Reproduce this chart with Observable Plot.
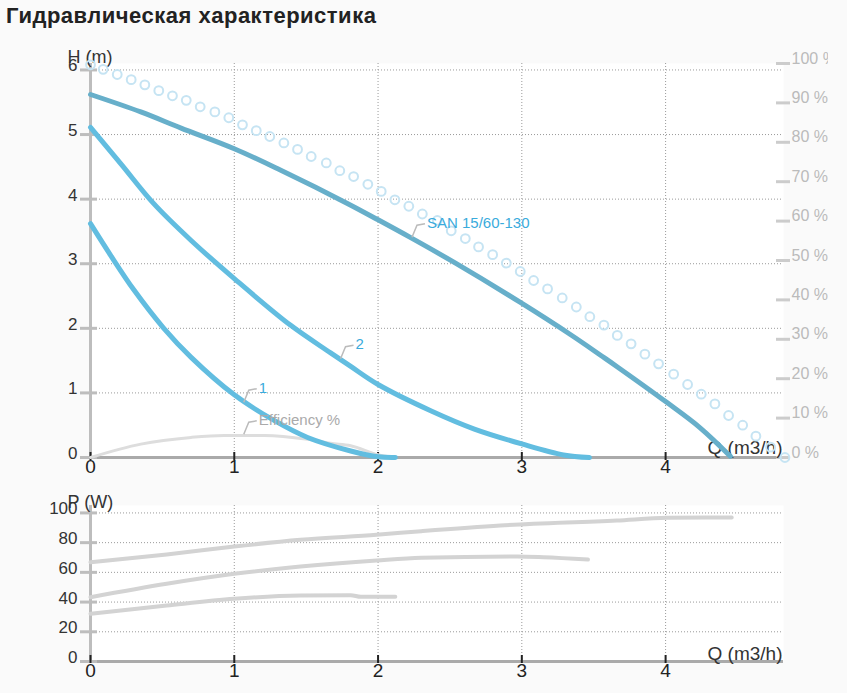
<!DOCTYPE html>
<html><head><meta charset="utf-8">
<script src="https://cdn.jsdelivr.net/npm/d3@7"></script>
<script src="https://cdn.jsdelivr.net/npm/@observablehq/plot@0.6"></script>
<style>
body{margin:0;background:#fafafa;font-family:"Liberation Sans",Arial,sans-serif;}
#wrap{position:relative;width:847px;height:693px;overflow:hidden}
#title{position:absolute;left:6px;top:5px;font-weight:bold;font-size:22px;line-height:22px;letter-spacing:0.5px;color:#222;white-space:nowrap}
#top{position:absolute;left:0;top:30px;width:828px;height:450px;overflow:hidden}
#bot{position:absolute;left:0;top:480px;width:847px;height:213px}
</style></head><body>
<div id="wrap"><div id="title">Гидравлическая характеристика</div><div id="top"></div><div id="bot"></div></div>
<script>
// ---- ticks ----
const qTicks = [0, 1, 2, 3, 4];
const hTicks = [0, 1, 2, 3, 4, 5, 6];
const pctTicks = [0, 10, 20, 30, 40, 50, 60, 70, 80, 90, 100];
const pTicks = [0, 20, 40, 60, 80, 100];

// ---- H(Q) curves ----
const sanQ = [0, 0.35, 0.63, 1.0, 1.32, 1.79, 2.0, 2.23, 2.53, 2.99, 3.34, 3.55, 3.66, 4.01, 4.24, 4.45];
const sanH = [5.62, 5.35, 5.10, 4.78, 4.45, 3.93, 3.68, 3.40, 3.02, 2.40, 1.90, 1.58, 1.41, 0.85, 0.46, 0.02];
const c2Q = [0, 0.21, 0.44, 0.70, 1.0, 1.39, 1.67, 1.81, 2.0, 2.37, 2.67, 3.0, 3.29, 3.47];
const c2H = [5.11, 4.55, 3.93, 3.36, 2.77, 2.05, 1.62, 1.41, 1.13, 0.72, 0.44, 0.21, 0.04, 0];
const c1Q = [0, 0.14, 0.30, 0.51, 0.70, 1.0, 1.28, 1.51, 1.81, 2.0, 2.12];
const c1H = [3.62, 3.13, 2.60, 2.0, 1.55, 0.97, 0.57, 0.31, 0.10, 0.01, 0];
// efficiency (%)
const effQ = [0, 0.35, 0.70, 0.93, 1.21, 1.51, 1.67, 1.81, 2.0, 2.11];
const effPct = [0, 3.4, 5.1, 5.6, 5.6, 4.6, 3.6, 3.0, 0.7, 0];
// dotted (circle) curve
const dotQ = [0,0.088,0.186,0.283,0.378,0.475,0.570,0.666,0.763,0.865,0.962,1.057,1.153,1.247,1.345,1.440,1.535,1.640,1.734,1.830,1.929,2.022,2.117,2.214,2.308,2.412,2.509,2.607,2.699,2.797,2.892,2.989,3.082,3.179,3.281,3.379,3.473,3.571,3.664,3.760,3.856,3.951,4.056,4.153,4.248,4.343,4.438,4.536,4.628,4.730,4.830];
const dotH = [6.08,6.01,5.93,5.85,5.77,5.68,5.60,5.53,5.43,5.35,5.26,5.15,5.06,4.97,4.87,4.77,4.66,4.56,4.44,4.35,4.23,4.12,3.99,3.89,3.77,3.67,3.51,3.39,3.26,3.14,3.01,2.88,2.74,2.61,2.47,2.33,2.18,2.05,1.89,1.76,1.60,1.45,1.29,1.13,0.98,0.83,0.65,0.50,0.33,0.16,0];

// ---- curve labels ----
const labelText = ["SAN 15/60-130", "2", "1"];
const labelQ = [2.236, 1.739, 1.066];
const labelH = [3.41, 1.53, 0.856];
const effLabelText = ["Efficiency %"];
const effLabelQ = [1.066];
const effLabelPct = [5.9];

// ---- P(Q) curves ----
const pMaxQ = [0, 0.53, 1.0, 1.46, 1.99, 2.30, 2.85, 3.66, 4.01, 4.46];
const pMaxW = [66.8, 72, 77.4, 81.9, 85.3, 87.7, 91.5, 94.9, 96.7, 96.9];
const p2Q = [0, 0.53, 1.0, 1.46, 1.99, 2.30, 2.97, 3.15, 3.46];
const p2W = [43.3, 52.3, 59, 63.9, 68, 69.8, 70.7, 70.2, 68.6];
const p1Q = [0, 0.53, 1.0, 1.46, 1.81, 1.88, 2.12];
const p1W = [32.1, 37.7, 42.2, 44.4, 44.6, 43.5, 43.5];

// ---- helpers ----
const zip = (xs, ys) => xs.map((x, i) => ({x, y: ys[i]}));
const H_MAX = 6.1;               // H-axis top; right axis 100 % sits here
const pctToH = p => p * H_MAX / 100;
const intFmt = d => String(Math.round(d));
const leader = {draw(ctx) { ctx.moveTo(0, 0); ctx.lineTo(5, -12); ctx.lineTo(13, -13.5); }};
const svgStyle = {maxWidth: "none", background: "transparent", overflow: "visible", fontFamily: "'Liberation Sans', Arial, sans-serif"};
const BLUE_LABEL = "#3aabdc";
const gridStyle = {stroke: "#9a9a9a", strokeOpacity: 1, strokeDasharray: "1,2", strokeWidth: 1};

const topPlot = Plot.plot({
  width: 847, height: 450,
  marginLeft: 90, marginRight: 64, marginTop: 33, marginBottom: 23,
  style: svgStyle,
  x: {domain: [0, 4.82]},
  y: {domain: [0, H_MAX]},
  marks: [
    Plot.frame({fill: "#ffffff", stroke: "none"}),
    Plot.gridX({ticks: qTicks.slice(1), ...gridStyle}),
    Plot.gridY({ticks: hTicks.slice(1), ...gridStyle}),
    Plot.ruleX([0], {stroke: "#bdbdbd", strokeWidth: 3}),
    Plot.ruleY([0], {stroke: "#aaaaaa", strokeWidth: 3}),
    // left axis: ticks + labels
    Plot.axisY({ticks: hTicks, tickSize: 17, dx: 7, tickFormat: () => "", stroke: "#bdbdbd", strokeWidth: 3, label: null}),
    Plot.axisY({ticks: hTicks, tickSize: 0, tickPadding: 13, dy: -4, tickFormat: intFmt, fill: "#333", fontSize: 17, label: null}),
    // right % axis
    Plot.axisY({anchor: "right", ticks: pctTicks.map(pctToH), tickSize: 14, dx: -8, tickFormat: () => "", stroke: "#cccccc", strokeWidth: 3, label: null}),
    Plot.axisY({anchor: "right", ticks: pctTicks.map(pctToH), tickSize: 0, tickPadding: 8, dy: -5,
      tickFormat: d => Math.round(d / H_MAX * 100) + " %", fill: "#bbbbbb", fontSize: 16, label: null}),
    // bottom axis ticks + labels
    Plot.axisX({ticks: qTicks, tickSize: 8, dy: -5, tickFormat: () => "", stroke: "#222", strokeWidth: 2, label: null}),
    Plot.axisX({ticks: qTicks, tickSize: 0, tickPadding: 2, tickFormat: intFmt, fill: "#222", fontSize: 19, label: null}),
    Plot.text(["H (m)"], {frameAnchor: "top-left", dx: -23, dy: -1, textAnchor: "start", lineAnchor: "bottom", fontSize: 18, fill: "#333"}),
    Plot.text(["Q (m3/h)"], {frameAnchor: "bottom-right", dx: -1, dy: -4, textAnchor: "end", lineAnchor: "bottom", fontSize: 19, fill: "#333"}),
    // data
    Plot.dot(zip(dotQ, dotH), {x: "x", y: "y", r: 4.4, fill: "none", stroke: "#c6e4f3", strokeWidth: 2}),
    Plot.line(zip(effQ, effPct.map(pctToH)), {x: "x", y: "y", stroke: "#dddddd", strokeWidth: 3, curve: "monotone-x"}),
    Plot.line(zip(c1Q, c1H), {x: "x", y: "y", stroke: "#62bde0", strokeWidth: 5, curve: "catmull-rom", strokeLinejoin: "round"}),
    Plot.line(zip(c2Q, c2H), {x: "x", y: "y", stroke: "#62bde0", strokeWidth: 5, curve: "catmull-rom", strokeLinejoin: "round"}),
    Plot.line(zip(sanQ, sanH), {x: "x", y: "y", stroke: "#67afca", strokeWidth: 5, curve: "catmull-rom", strokeLinejoin: "round"}),
    // labels with leader lines
    Plot.dot(zip(labelQ, labelH), {x: "x", y: "y", symbol: leader, fill: "none", stroke: "#bbbbbb", strokeWidth: 1.5}),
    Plot.text(labelText.map((t, i) => ({t, x: labelQ[i], y: labelH[i]})), {x: "x", y: "y", text: "t", dx: 15, dy: -14, textAnchor: "start", fill: BLUE_LABEL, fontSize: 15}),
    Plot.dot(zip(effLabelQ, effLabelPct.map(pctToH)), {x: "x", y: "y", symbol: leader, fill: "none", stroke: "#bbbbbb", strokeWidth: 1.5}),
    Plot.text(effLabelText.map((t, i) => ({t, x: effLabelQ[i], y: pctToH(effLabelPct[i])})), {x: "x", y: "y", text: "t", dx: 15, dy: -14, textAnchor: "start", fill: "#aaaaaa", fontSize: 15})
  ]
});
document.getElementById("top").append(topPlot);

const botPlot = Plot.plot({
  width: 847, height: 213,
  marginLeft: 90, marginRight: 64, marginTop: 25, marginBottom: 32,
  style: svgStyle,
  x: {domain: [0, 4.82]},
  y: {domain: [0, 105]},
  marks: [
    Plot.frame({fill: "#ffffff", stroke: "none"}),
    Plot.gridX({ticks: qTicks.slice(1), ...gridStyle}),
    Plot.gridY({ticks: pTicks.slice(1), ...gridStyle}),
    Plot.ruleX([0], {stroke: "#bdbdbd", strokeWidth: 3}),
    Plot.ruleY([0], {stroke: "#aaaaaa", strokeWidth: 3}),
    Plot.axisY({ticks: pTicks, tickSize: 17, dx: 7, tickFormat: () => "", stroke: "#bdbdbd", strokeWidth: 3, label: null}),
    Plot.axisY({ticks: pTicks, tickSize: 0, tickPadding: 13, dy: -4, tickFormat: intFmt, fill: "#333", fontSize: 17, label: null}),
    Plot.axisX({ticks: qTicks, tickSize: 8, dy: -6, tickFormat: () => "", stroke: "#222", strokeWidth: 2, label: null}),
    Plot.axisX({ticks: qTicks, tickSize: 0, tickPadding: 2, tickFormat: intFmt, fill: "#222", fontSize: 19, label: null}),
    Plot.text(["P (W)"], {frameAnchor: "top-left", dx: -23, dy: 2, textAnchor: "start", lineAnchor: "bottom", fontSize: 18, fill: "#333"}),
    Plot.text(["Q (m3/h)"], {frameAnchor: "bottom-right", dx: -1, dy: -2, textAnchor: "end", lineAnchor: "bottom", fontSize: 19, fill: "#333"}),
    Plot.line(zip(pMaxQ, pMaxW), {x: "x", y: "y", stroke: "#d3d3d3", strokeWidth: 4, curve: "monotone-x"}),
    Plot.line(zip(p2Q, p2W), {x: "x", y: "y", stroke: "#d3d3d3", strokeWidth: 4, curve: "monotone-x"}),
    Plot.line(zip(p1Q, p1W), {x: "x", y: "y", stroke: "#d3d3d3", strokeWidth: 4, curve: "monotone-x"})
  ]
});
document.getElementById("bot").append(botPlot);
</script>
</body></html>
